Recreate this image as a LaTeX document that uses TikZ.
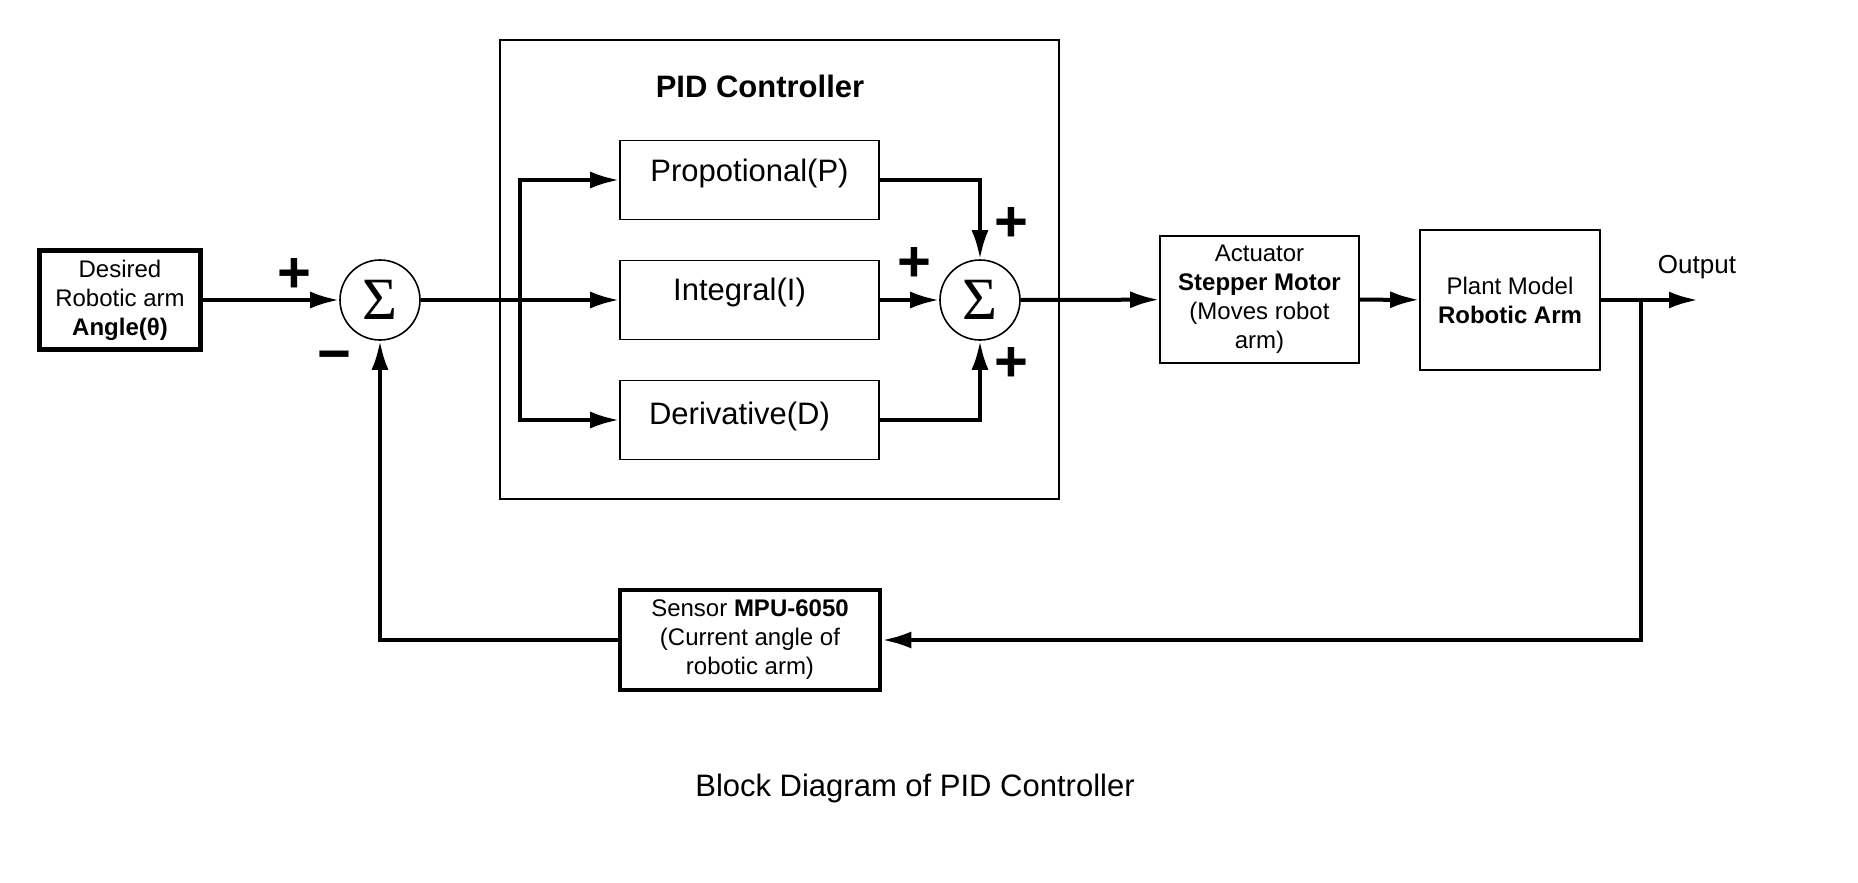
\documentclass[tikz,border=0pt]{standalone}
\usepackage{fontspec}
\setmainfont{Liberation Sans}
\newfontfamily\sigmafont{Liberation Serif}
\usetikzlibrary{arrows.meta}
\begin{document}
\begin{tikzpicture}[x=1pt, y=-1pt, >={Latex[length=29pt,width=17pt]}, line width=4pt,
    txt/.style={font=\fontsize{24}{29}\selectfont, align=center},
    block/.style={draw, line width=1.6pt, inner sep=0pt, txt},
    pidblock/.style={block, minimum width=259pt, minimum height=79pt, font=\fontsize{31}{36}\selectfont, text depth=20pt},
    sumnode/.style={draw, circle, line width=1.6pt, minimum size=80pt, inner sep=0pt, font=\fontsize{60}{60}\selectfont\sigmafont},
    sign/.style={inner sep=0pt, font=\fontsize{58}{58}\selectfont\bfseries}]
    \useasboundingbox (0,0) rectangle (1858,883);
    % blocks
    \node [block, line width=4.5pt, minimum width=161pt, minimum height=99pt] (desired) at (120,300) {Desired\\Robotic arm\\\textbf{Angle(θ)}};
    \node [sumnode] (sum1) at (380,300) {Σ};
    \node [draw, line width=1.6pt, minimum width=559pt, minimum height=459pt] (pid) at (779.5,269.5) {};
    \node [font=\fontsize{31}{36}\selectfont\bfseries] (pidtitle) at (760,86) {PID Controller};
    \node [pidblock] (prop) at (749.5,180) {Propotional(P)};
    \node [pidblock, text depth=22pt] (integ) at (749.5,300) {\hbox{Integral(I)\kern20pt}};
    \node [pidblock, text depth=14pt] (deriv) at (749.5,420) {\hbox{Derivative(D)\kern20pt}};
    \node [sumnode] (sum2) at (980,300) {Σ};
    \node [block, minimum width=199pt, minimum height=127pt] (act) at (1259.5,299.5) {Actuator\\\textbf{Stepper Motor}\\(Moves robot\\arm)};
    \node [block, minimum width=180pt, minimum height=140pt] (plant) at (1510,300) {Plant Model\\\textbf{Robotic Arm}};
    \node [block, line width=4.5pt, minimum width=260pt, minimum height=100pt] (sensor) at (750,640) {Sensor \textbf{MPU-6050}\\(Current angle of\\robotic arm)};
    \node [font=\fontsize{26}{30}\selectfont] (outlabel) at (1697,267) {Output};
    \node [font=\fontsize{31}{36}\selectfont] (caption) at (915,788) {Block Diagram of PID Controller};
    % signs
    \node [sign] (s1) at (294,275) {+};
    \node [sign] (s2) at (334,362) {−};
    \node [sign] (s3) at (1011,224) {+};
    \node [sign] (s4) at (914,264) {+};
    \node [sign] (s5) at (1011,364) {+};
    % connectors
    \coordinate (split) at (520,300);
    \coordinate (tap) at (1641,300);
    \coordinate (outp) at (1698,300);
    \draw [->] (desired) -- (sum1);
    \draw [->] (sum1) -- (integ);
    \draw [->] (split) |- (prop.west);
    \draw [->] (split) |- (deriv.west);
    \draw [->] (prop.east) -| (sum2.north);
    \draw [->] (integ) -- (sum2);
    \draw [->] (deriv.east) -| (sum2.south);
    \draw [->] (sum2) -- (act);
    \draw [->] (act) -- (plant);
    \draw [->] (plant) -- (outp);
    \draw [->] (tap) |- (sensor.east);
    \draw [->] (sensor.west) -| (sum1.south);
\end{tikzpicture}
\end{document}
